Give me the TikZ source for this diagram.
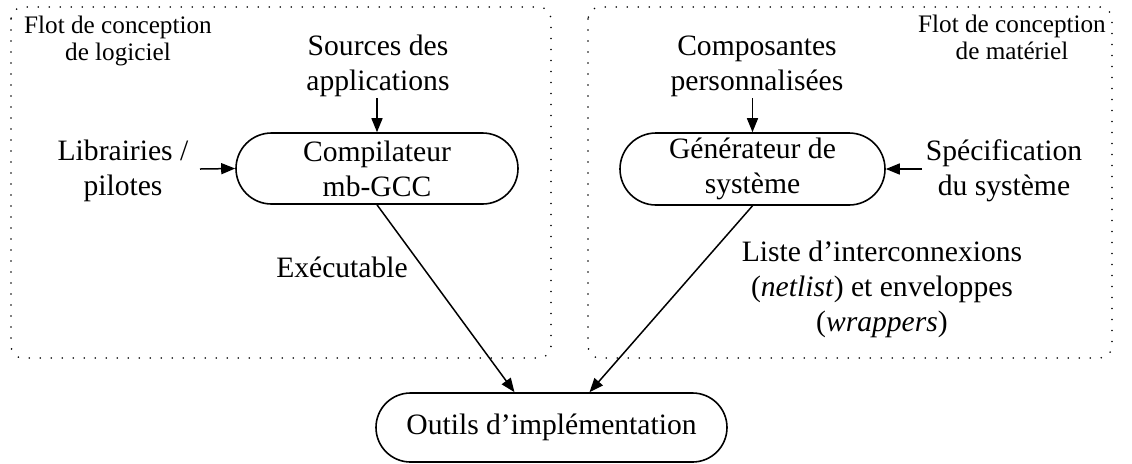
\documentclass[tikz,border=0pt]{standalone}
\usepackage{fontspec}
\setmainfont{Liberation Serif}
\usetikzlibrary{shapes.misc,arrows.meta,calc}
\begin{document}
\begin{tikzpicture}[x=0.5pt,y=-0.5pt,
  lbl/.style={align=center,inner sep=0pt,font=\fontsize{14.8}{17.5}\selectfont},
  ttl/.style={align=center,inner sep=0pt,font=\fontsize{12.6}{13.5}\selectfont},
  proc/.style={draw,line width=0.8pt,rounded rectangle,inner sep=0pt,align=center,
    font=\fontsize{14.8}{17.5}\selectfont},
  flow/.style={line width=0.75pt,-{Triangle[length=7pt,width=5.5pt]}},
  zone/.style={line width=0.9pt,line cap=round,dash pattern=on 0pt off 5.5pt,rounded corners=6pt}]
\useasboundingbox (0,0) rectangle (1132,463);
% dotted frames of the two design flows
\draw[zone] (11,7) rectangle (551,358);
\draw[zone] (588,7) rectangle (1112,358);
\node[ttl] (tsw) at (118,41) {Flot de conception\\de logiciel};
\node[ttl] (thw) at (1012,37) {Flot de conception\\de matériel};
% software side
\node[lbl] (src) at (378,66) {Sources des\\applications};
\node[proc,minimum width=141pt,minimum height=35.5pt] (comp) at (377,168.5) {Compilateur\\mb-GCC};
\node[lbl] (lib) at (123,171) {Librairies /\\pilotes};
\node[lbl] (exe) at (342,267) {Exécutable};
% hardware side
\node[lbl] (cus) at (757,66) {Composantes\\personnalisées};
\node[proc,minimum width=132.5pt,minimum height=36pt] (gen) at (752.5,169) {Générateur de\\système};
\node[lbl] (spec) at (1004,171) {Spécification\\du système};
\node[lbl] (net) at (882,289) {Liste d'interconnexions\\(\textit{netlist}) et enveloppes\\(\textit{wrappers})};
% implementation tools
\node[proc,minimum width=175.5pt,minimum height=34.5pt] (out) at (551.5,427.5) {Outils d'implémentation};
% connectors
\draw[flow] (comp.north |- 0,98) -- (comp.north);
\draw[flow] (200,169) -- (comp.west);
\draw[flow] (gen.north |- 0,98) -- (gen.north);
\draw[flow] (922,169) -- (gen.east);
\draw[flow] (comp.south) -- ($(out.north)+(-37,0)$);
\draw[flow] (gen.south) -- ($(out.north)+(38,0)$);
\end{tikzpicture}
\end{document}
